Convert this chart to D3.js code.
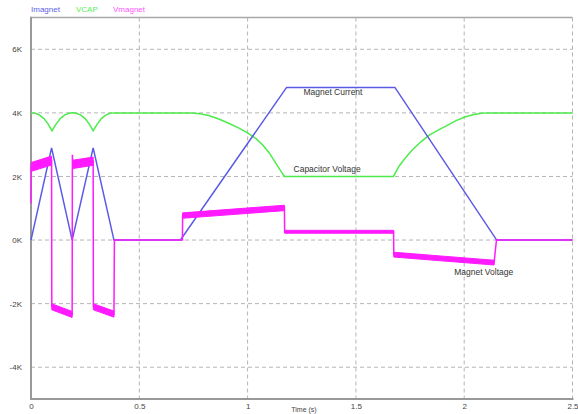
<!DOCTYPE html>
<html>
<head>
<meta charset="utf-8">
<script src="https://cdn.jsdelivr.net/npm/d3@7"></script>
<style>
  html, body { margin: 0; padding: 0; background: #fff; }
  svg { display: block; font-family: "Liberation Sans", Arial, sans-serif; }
</style>
</head>
<body>
<svg id="chart" width="578" height="414"></svg>
<script>
// ---- series: magnet current (A) ----
const imagnetT = [0, 0.095, 0.19, 0.287, 0.383, 0.69, 1.18, 1.68, 2.15, 2.5];
const imagnetV = [0, 2900, 0, 2900, 0, 0, 4800, 4800, 0, 0];

// ---- series: capacitor voltage (V) ----
const vcapT = [0, 0.02, 0.04, 0.06, 0.08, 0.097, 0.115, 0.135, 0.155, 0.175, 0.19,
               0.21, 0.23, 0.25, 0.27, 0.287, 0.305, 0.325, 0.345, 0.365, 0.383,
               0.70, 0.74, 0.78, 0.82, 0.87, 0.92, 0.96, 1.0, 1.04, 1.07, 1.10, 1.13, 1.155, 1.17,
               1.673, 1.70, 1.73, 1.76, 1.80, 1.84, 1.88, 1.92, 1.96, 2.0, 2.04, 2.08, 2.12, 2.5];
const vcapV = [4000, 3990, 3930, 3820, 3640, 3440, 3640, 3820, 3930, 3990, 4000,
               3990, 3930, 3820, 3640, 3440, 3640, 3820, 3930, 3990, 4000,
               4000, 3995, 3975, 3920, 3800, 3650, 3520, 3370, 3180, 2990, 2740, 2420, 2150, 2000,
               2000, 2330, 2600, 2830, 3090, 3310, 3460, 3600, 3750, 3860, 3940, 3985, 4000, 4000];

// ---- series: magnet voltage (V) ----
const vmagnetT = [0, 0.001, 0.095, 0.096, 0.19, 0.191, 0.193, 0.287, 0.288, 0.383, 0.385,
                  0.699, 0.70, 1.17, 1.171, 1.674, 1.675, 2.138, 2.149, 2.5];
const vmagnetV = [1150, 2300, 2500, -2100, -2340, 2680, 2380, 2480, -2100, -2330, 0,
                  0, 770, 1010, 260, 260, -460, -710, 0, 0];

// switching ripple on the magnet voltage: windows and peak-to-peak size (V)
const rippleStart = [0.001, 0.096, 0.193, 0.288, 0.70, 1.171, 1.675];
const rippleEnd   = [0.095, 0.19, 0.287, 0.383, 1.17, 1.674, 2.138];
const ripplePP    = [280, 190, 260, 190, 170, 90, 150];

// ---- axes ----
const xTicks = [0, 0.5, 1, 1.5, 2, 2.5];
const xTickLabels = ["0", "0.5", "1", "1.5", "2", "2.5"];
const yTicks = [-4000, -2000, 0, 2000, 4000, 6000];
const yTickLabels = ["-4K", "-2K", "0K", "2K", "4K", "6K"];
const xTitle = "Time (s)";

const legendNames = ["Imagnet", "VCAP", "Vmagnet"];
const annotations = [
  { text: "Magnet Current", t: 1.394, v: 4620 },
  { text: "Capacitor Voltage", t: 1.367, v: 2220 },
  { text: "Magnet Voltage", t: 2.09, v: -1030 }
];

const colors = { imagnet: "#5a5ae6", vcap: "#4cec4c", vmagnet: "#ff1aff" };
const legendColors = ["#6060e8", "#55ee55", "#ff55ff"];

const svg = d3.select("#chart");
const plotLeft = 31, plotRight = 572.5, plotTop = 17.5, plotBottom = 399;

const x = d3.scaleLinear().domain([0, 2.5]).range([plotLeft, plotRight]);
const y = d3.scaleLinear().domain([-5000, 7000]).range([plotBottom, plotTop]);

// grid
const grid = svg.append("g").attr("stroke", "#b4b4b4").attr("stroke-width", 1)
  .attr("stroke-dasharray", "4,3");
grid.selectAll("line.gx").data(xTicks.filter(d => d > 0)).join("line")
  .attr("class", "gx")
  .attr("x1", d => x(d)).attr("x2", d => x(d))
  .attr("y1", plotTop).attr("y2", plotBottom);
grid.selectAll("line.gy").data(yTicks).join("line")
  .attr("class", "gy")
  .attr("x1", plotLeft).attr("x2", plotRight)
  .attr("y1", d => y(d)).attr("y2", d => y(d));

// frame
svg.append("line").attr("x1", plotLeft).attr("x2", plotRight).attr("y1", plotTop).attr("y2", plotTop)
  .attr("stroke", "#a8a8a8").attr("stroke-width", 1.5);
svg.append("line").attr("x1", plotLeft).attr("x2", plotLeft).attr("y1", plotTop - 0.75).attr("y2", plotBottom + 1)
  .attr("stroke", "#999").attr("stroke-width", 2);
svg.append("line").attr("x1", plotLeft - 1).attr("x2", plotRight + 1).attr("y1", plotBottom).attr("y2", plotBottom)
  .attr("stroke", "#999").attr("stroke-width", 2);

// axes
const yAxis = d3.axisLeft(y).tickValues(yTicks)
  .tickFormat((d, i) => yTickLabels[i]).tickSize(0).tickPadding(9);
const gy = svg.append("g").attr("transform", `translate(${plotLeft},0)`).call(yAxis);
gy.select(".domain").remove();
gy.selectAll("text").attr("fill", "#444").style("font-size", "8px")
  .style("font-family", "'Liberation Sans', Arial, sans-serif");

const xAxis = d3.axisBottom(x).tickValues(xTicks)
  .tickFormat((d, i) => xTickLabels[i]).tickSize(0).tickPadding(4);
const gx = svg.append("g").attr("transform", `translate(0,${plotBottom})`).call(xAxis);
gx.select(".domain").remove();
gx.selectAll("text").attr("fill", "#444").style("font-size", "8px")
  .style("font-family", "'Liberation Sans', Arial, sans-serif");

svg.append("text").attr("x", 304).attr("y", 411.5)
  .attr("text-anchor", "middle").attr("fill", "#444").style("font-size", "7px")
  .text(xTitle);

// series lines
const line = d3.line().x(d => x(d[0])).y(d => y(d[1]));
const zipSeries = (ts, vs) => ts.map((t, i) => [t, vs[i]]);

const imagnet = zipSeries(imagnetT, imagnetV);
const vcap = zipSeries(vcapT, vcapV);
const vmagnet = zipSeries(vmagnetT, vmagnetV);

svg.append("path").datum(vcap).attr("d", line)
  .attr("fill", "none").attr("stroke", colors.vcap).attr("stroke-width", 1.5);
svg.append("path").datum(imagnet).attr("d", line)
  .attr("fill", "none").attr("stroke", colors.imagnet).attr("stroke-width", 1.5);

// magnet voltage trace
svg.append("path").datum(vmagnet).attr("d", line)
  .attr("fill", "none").attr("stroke", colors.vmagnet).attr("stroke-width", 1.5);

// ripple envelope along the magnet voltage
const rippleArea = d3.area().x(d => x(d[0]))
  .y0(d => y(d[1] - d[2] / 2)).y1(d => y(d[1] + d[2] / 2));
rippleStart.forEach((t0, k) => {
  const pts = vmagnet.filter(p => p[0] >= t0 && p[0] <= rippleEnd[k])
    .map(p => [p[0], p[1], ripplePP[k]]);
  svg.append("path").datum(pts).attr("d", rippleArea)
    .attr("fill", colors.vmagnet).attr("stroke", colors.vmagnet).attr("stroke-width", 1);
});

// annotations
svg.selectAll("text.note").data(annotations).join("text")
  .attr("class", "note")
  .attr("x", d => x(d.t)).attr("y", d => y(d.v))
  .attr("text-anchor", "middle").attr("dominant-baseline", "middle")
  .attr("fill", "#333").style("font-size", "8.5px")
  .text(d => d.text);

// legend
const legendX = [31, 76, 113];
svg.selectAll("text.legend").data(legendNames).join("text")
  .attr("class", "legend")
  .attr("x", (d, i) => legendX[i]).attr("y", 12)
  .attr("fill", (d, i) => legendColors[i]).style("font-size", "8px")
  .text(d => d);
</script>
</body>
</html>
